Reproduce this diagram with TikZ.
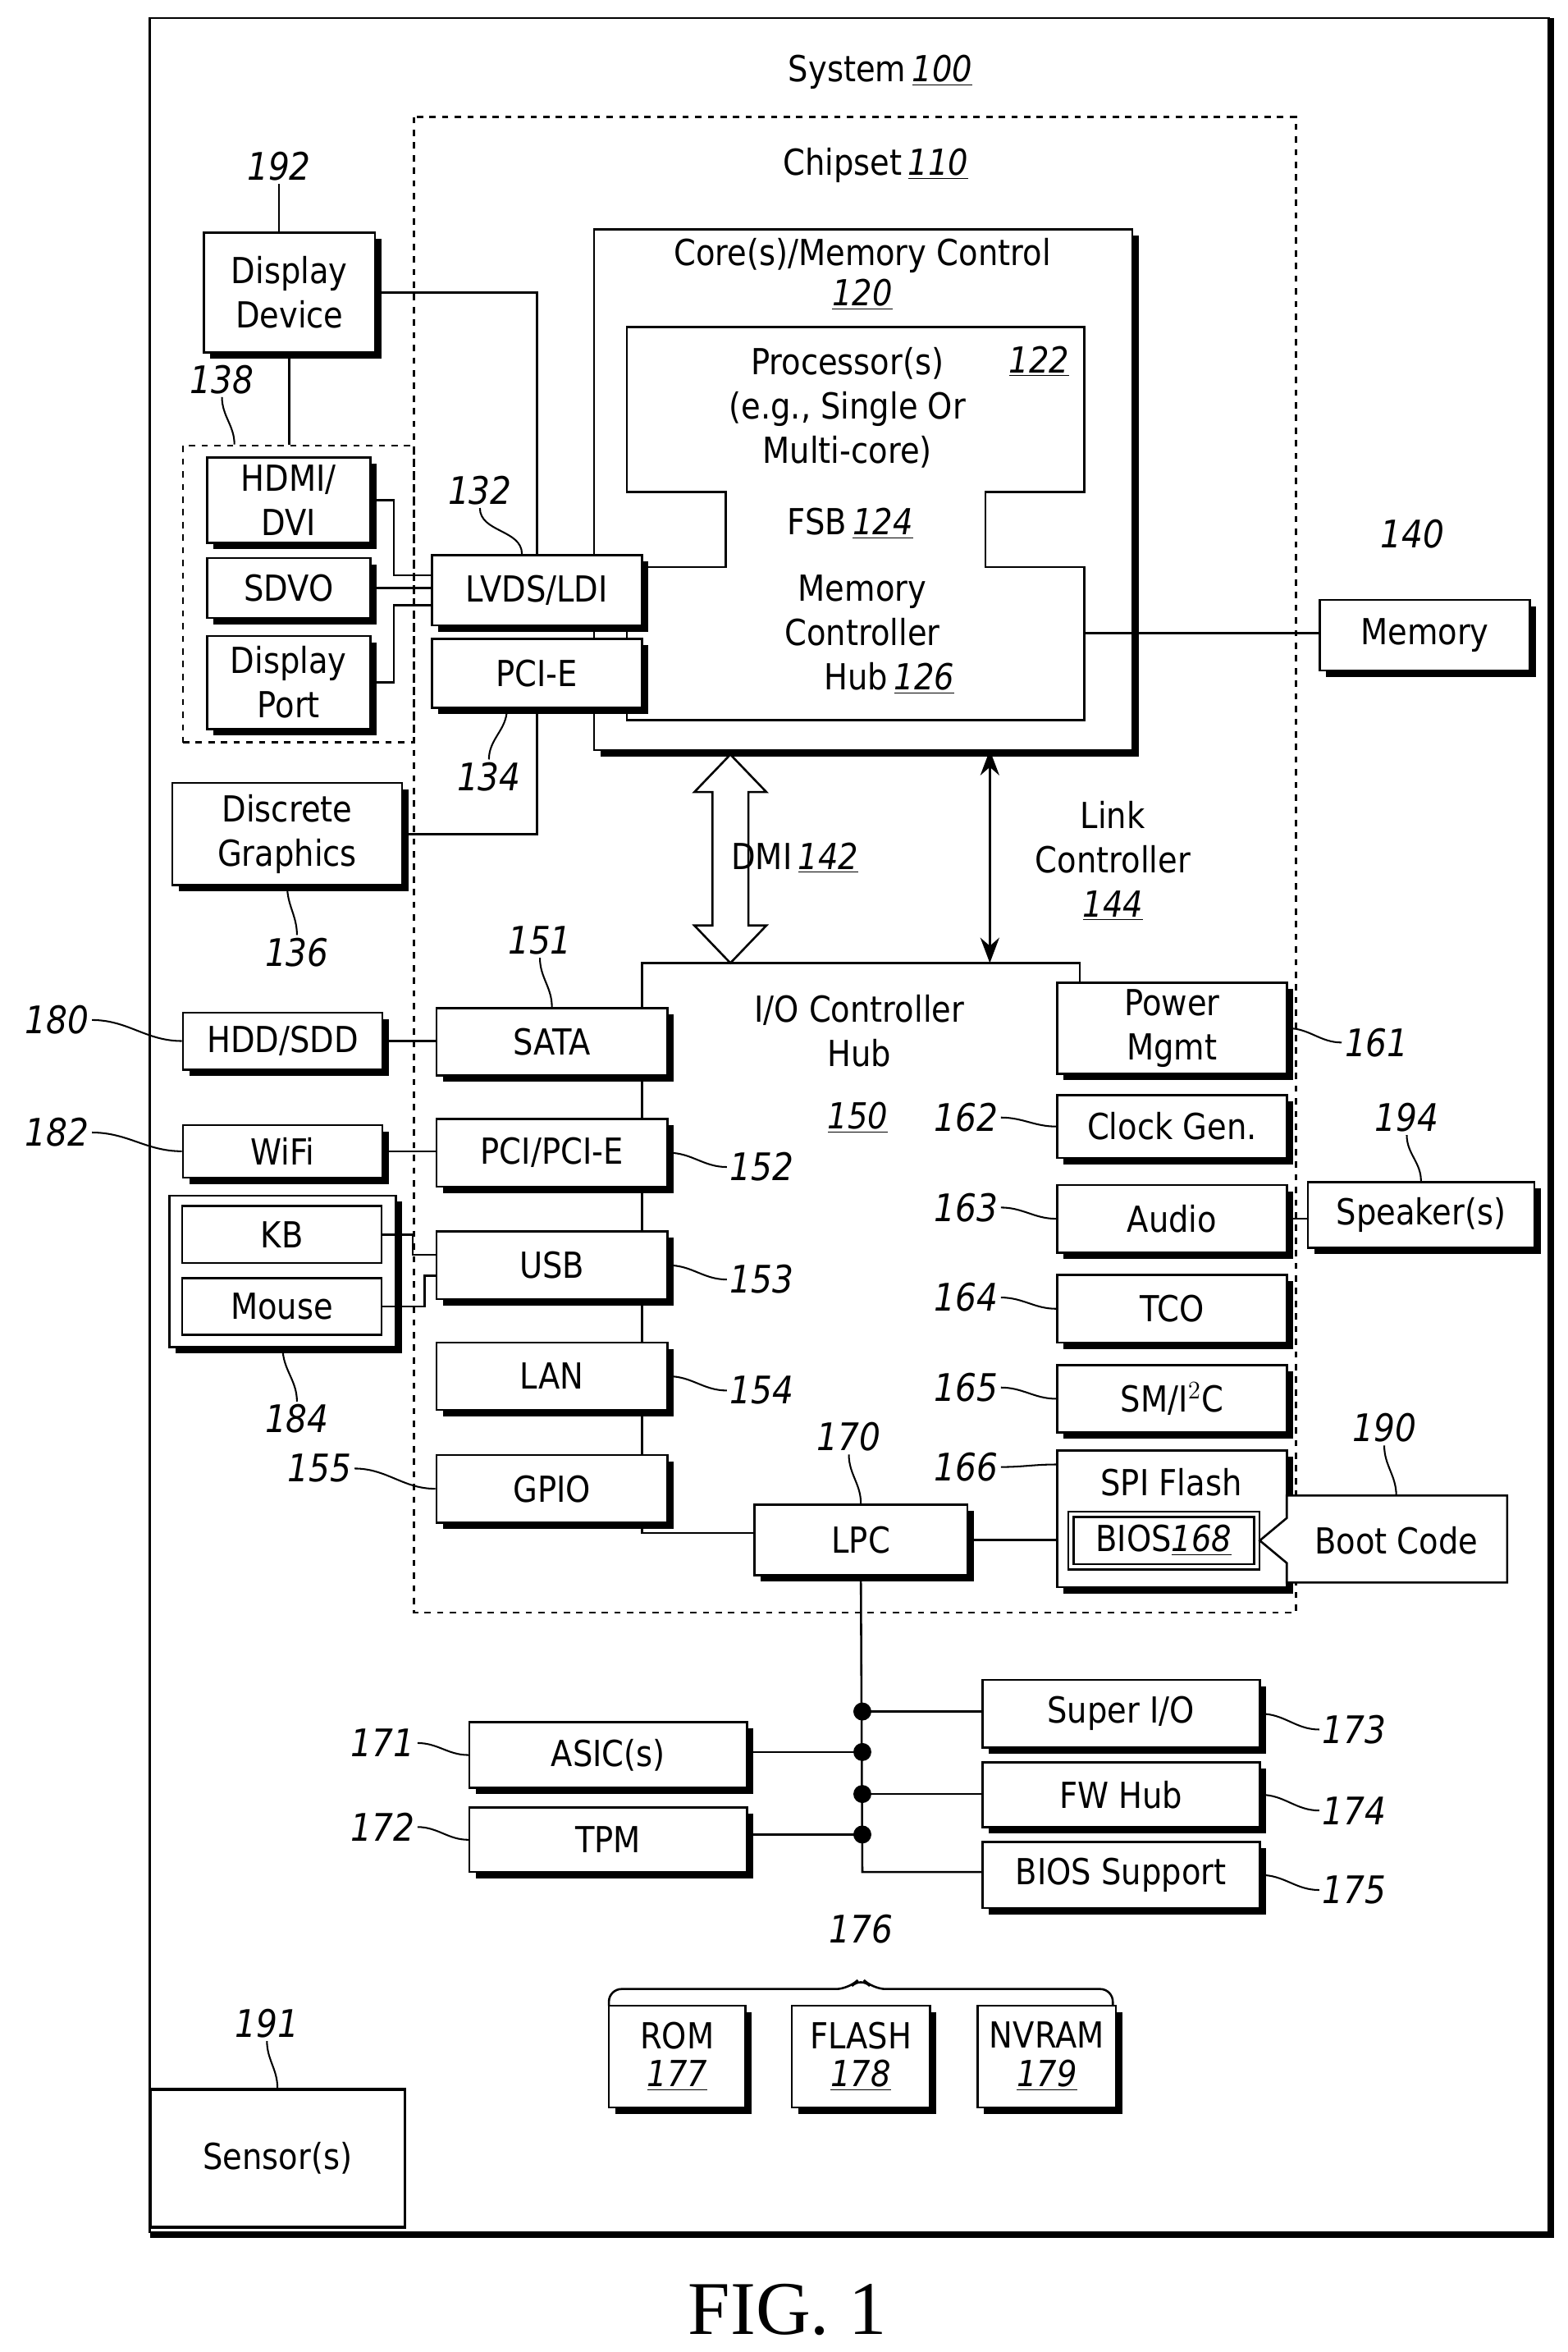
\documentclass[tikz,border=0pt]{standalone}
\usepackage{fontspec}
\setmainfont{DejaVu Sans}[FakeStretch=0.88]
\newfontfamily\figfont{Liberation Serif}
\usetikzlibrary{shadows,calc,arrows.meta}
\newcommand\num[1]{\underline{\textit{#1}}}
\newcommand\bx[7][]{\node[box,#1,minimum width={(#5-#3)*0.025cm},minimum height={(#6-#4)*0.025cm}] (#2) at ({(#3+#5)/2},{(#4+#6)/2}) {#7};}
\begin{document}
\begin{tikzpicture}[x=0.025cm,y=-0.025cm,line width=1pt,
  every node/.style={font=\fontsize{17}{21}\selectfont},
  box/.style={draw,fill=white,inner sep=0pt,align=center,general shadow={fill=black,shadow xshift=3pt,shadow yshift=-3pt}},
  pbox/.style={draw,fill=white,inner sep=0pt,align=center},
  lab/.style={font=\fontsize{18}{21}\selectfont\itshape,inner sep=1pt},
  lead/.style={line width=0.8pt}]
\useasboundingbox (0,0) rectangle (1045,1568);
% outer frame
\draw (100,12) rectangle (1033,1488);
\draw[line width=3pt] (1034,12) -- (1034,1490) -- (100,1490);
\node (sys) at (587,48) {System\,\num{100}};
% chipset
\draw[dashed] (276,78) rectangle (864,1075);
\node (chip) at (584,110) {Chipset\,\num{110}};
% core
\bx{core}{396}{153}{755}{500}{}
\node[align=center] (coret) at (575,183) {Core(s)/Memory Control\\[-2pt]\num{120}};
\draw (418,218) -- (723,218) -- (723,328) -- (657,328) -- (657,378) -- (723,378) -- (723,480) -- (418,480) -- (418,378) -- (484,378) -- (484,328) -- (418,328) -- cycle;
\node[align=center] (proc) at (565,272) {Processor(s)\\(e.g., Single Or\\Multi-core)};
\node (n122) at (693,241) {\num{122}};
\node (fsb) at (567,349) {FSB\,\num{124}};
\node[align=center] (mch) at (575,423) {Memory\\Controller\\\hspace*{1.5em}Hub\,\num{126}};
\coordinate (mchR) at (723,422);
% memory
\bx{mem}{880}{400}{1020}{447}{Memory}
\node[lab] (l140) at (942,356) {140};
\draw (mchR) -- (mchR -| mem.west);
% display
\bx{ddev}{136}{155}{250}{235}{Display\\Device}
\node[lab] (l192) at (186,111) {192};
\draw[lead] (l192.south) -- (ddev.north -| l192.south);
\node[draw,dashed,minimum width={154*0.025cm},minimum height={198*0.025cm},inner sep=0pt] (g138) at (199,396) {};
\node[lab] (l138) at (148,253) {138};
\draw[lead] (l138.south) to[out=-90,in=90] ($(g138.north west)+(35,0)$);
\draw (ddev.south) -- (ddev.south |- g138.north);
\bx{hdmi}{138}{305}{247}{362}{HDMI/\\DVI}
\bx{sdvo}{138}{372}{247}{412}{SDVO}
\bx{dp}{138}{424}{247}{486}{Display\\Port}
\bx{lvds}{288}{370}{428}{417}{LVDS/LDI}
\bx{pcie}{288}{426}{428}{472}{PCI-E}
\node[lab] (l132) at (320,327) {132};
\draw[lead] (l132.south) to[out=-90,in=90] ($(lvds.north)+(-10,0)$);
\node[lab] (l134) at (326,518) {134};
\draw[lead] (l134.north) to[out=90,in=-90] ($(pcie.south)+(-20,0)$);
\draw (ddev.east) -| (lvds.north);
\draw (hdmi.east) -- ++(15,0) |- ($(lvds.west)+(0,-10)$);
\draw (sdvo.east) -- (sdvo.east -| lvds.west);
\draw (dp.east) -- ++(15,0) |- ($(lvds.west)+(0,10)$);
\bx{dg}{115}{522}{268}{590}{Discrete\\Graphics}
\node[lab] (l136) at (198,635) {136};
\draw[lead] (l136.north) to[out=90,in=-90] (dg.south);
\draw (dg.east) -| (pcie.south);
% DMI
\draw[fill=white] (487,503) -- (511,528) -- (499,528) -- (499,617) -- (511,617) -- (487,642) -- (463,617) -- (475,617) -- (475,528) -- (463,528) -- cycle;
\node (dmi) at (530,572) {DMI\,\num{142}};
\coordinate (lkT) at (660,500);
\coordinate (lkB) at (660,642);
\draw[{Stealth[length=12pt,width=9pt]}-{Stealth[length=12pt,width=9pt]}] (lkT) -- (lkB);
\node[align=center] (link) at (742,574) {Link\\Controller\\\num{144}};
% ICH
\draw (503,1022) -- (428,1022) -- (428,642) -- (720,642) -- (720,655);
\node[align=center] (ich) at (573,687) {I/O Controller\\Hub};
\node (n150) at (572,745) {\num{150}};
\bx{sata}{291}{672}{445}{717}{SATA}
\bx{pci}{291}{746}{445}{791}{PCI/PCI-E}
\bx{usb}{291}{821}{445}{866}{USB}
\bx{lan}{291}{895}{445}{940}{LAN}
\bx{gpio}{291}{970}{445}{1015}{GPIO}
\node[lab] (l151) at (360,627) {151};
\draw[lead] (l151.south) to[out=-90,in=90] (sata.north);
\node[lab] (l152) at (508,778) {152};
\draw[lead] (pci.east) to[out=0,in=180] (l152.west);
\node[lab] (l153) at (508,853) {153};
\draw[lead] (usb.east) to[out=0,in=180] (l153.west);
\node[lab] (l154) at (508,927) {154};
\draw[lead] (lan.east) to[out=0,in=180] (l154.west);
\node[lab] (l155) at (213,979) {155};
\draw[lead] (l155.east) to[out=0,in=180] (gpio.west);
% right boxes
\bx{pm}{705}{655}{858}{716}{Power\\Mgmt}
\bx{clk}{705}{730}{858}{772}{Clock Gen.}
\bx{aud}{705}{790}{858}{835}{Audio}
\bx{tco}{705}{850}{858}{895}{TCO}
\bx{smb}{705}{910}{858}{955}{SM/I$^2$C}
\bx{spi}{705}{967}{858}{1058}{}
\node (spit) at (781,988) {SPI Flash};
\node[draw,double,double distance=1.5pt,minimum width={124*0.025cm},minimum height={35*0.025cm},inner sep=0pt] (bios) at (776,1027) {BIOS\num{168}};
\node[lab] (l161) at (918,695) {161};
\draw[lead] (pm.east) to[out=0,in=180] (l161.west);
\node[lab] (l162) at (644,745) {162};
\draw[lead] (l162.east) to[out=0,in=180] (clk.west);
\node[lab] (l163) at (644,805) {163};
\draw[lead] (l163.east) to[out=0,in=180] (aud.west);
\node[lab] (l164) at (644,865) {164};
\draw[lead] (l164.east) to[out=0,in=180] (tco.west);
\node[lab] (l165) at (644,925) {165};
\draw[lead] (l165.east) to[out=0,in=180] (smb.west);
\node[lab] (l166) at (644,978) {166};
\draw[lead] (l166.east) to[out=0,in=180] ($(spi.north west)+(0,10)$);
% boot code
\draw[fill=white] (858,997) -- (1005,997) -- (1005,1055) -- (858,1055) -- (858,1042) -- (840,1027) -- (858,1012) -- cycle;
\node (boot) at (931,1027) {Boot Code};
\node[lab] (l190) at (923,952) {190};
\draw[lead] (l190.south) to[out=-90,in=90] (931,997);
% speaker
\bx{spk}{872}{788}{1023}{832}{Speaker(s)}
\node[lab] (l194) at (938,745) {194};
\draw[lead] (l194.south) to[out=-90,in=90] (spk.north);
\draw (aud.east) -- (aud.east -| spk.west);
% external left
\bx{hdd}{122}{675}{255}{713}{HDD/SDD}
\node[lab] (l180) at (38,680) {180};
\draw[lead] (l180.east) to[out=0,in=180] (hdd.west);
\draw (hdd.east) -- (hdd.east -| sata.west);
\bx{wifi}{122}{750}{255}{785}{WiFi}
\node[lab] (l182) at (38,755) {182};
\draw[lead] (l182.east) to[out=0,in=180] (wifi.west);
\draw (wifi.east) -- (wifi.east -| pci.west);
\bx{kbm}{113}{797}{264}{898}{}
\node[pbox,minimum width={133*0.025cm},minimum height={38*0.025cm}] (kb) at (188,823) {KB};
\node[pbox,minimum width={133*0.025cm},minimum height={38*0.025cm}] (mouse) at (188,871) {Mouse};
\node[lab] (l184) at (198,946) {184};
\draw[lead] (l184.north) to[out=90,in=-90] (kbm.south);
\draw (kb.east) -- ++(20,0) |- ($(usb.west)+(0,-7)$);
\draw (mouse.east) -- ++(28,0) |- ($(usb.west)+(0,7)$);
% LPC
\bx{lpc}{503}{1003}{645}{1050}{LPC}
\node[lab] (l170) at (566,958) {170};
\draw[lead] (l170.south) to[out=-90,in=90] (lpc.north);
\draw (lpc.east) -- (lpc.east -| spi.west);
% bus
\bx{sio}{655}{1120}{840}{1165}{Super I/O}
\bx{fwh}{655}{1175}{840}{1218}{FW Hub}
\bx{bsup}{655}{1228}{840}{1272}{BIOS Support}
\bx{asic}{313}{1148}{498}{1192}{ASIC(s)}
\bx{tpm}{313}{1205}{498}{1248}{TPM}
\coordinate (d1) at (575,1141);
\coordinate (d2) at (575,1168);
\coordinate (d3) at (575,1196);
\coordinate (d4) at (575,1223);
\coordinate (bend) at (575,1248);
\draw (lpc.south) -- (bend) -- (bend -| bsup.west);
\draw (d1) -- (d1 -| sio.west);
\draw (d2) -- (d2 -| asic.east);
\draw (d3) -- (d3 -| fwh.west);
\draw (d4) -- (d4 -| tpm.east);
\foreach \d in {d1,d2,d3,d4} \fill (\d) circle (6);
\node[lab] (l171) at (255,1162) {171};
\draw[lead] (l171.east) to[out=0,in=180] (asic.west);
\node[lab] (l172) at (255,1218) {172};
\draw[lead] (l172.east) to[out=0,in=180] (tpm.west);
\node[lab] (l173) at (903,1153) {173};
\draw[lead] (sio.east) to[out=0,in=180] (l173.west);
\node[lab] (l174) at (903,1207) {174};
\draw[lead] (fwh.east) to[out=0,in=180] (l174.west);
\node[lab] (l175) at (903,1260) {175};
\draw[lead] (bsup.east) to[out=0,in=180] (l175.west);
% memories
\node[lab] (l176) at (574,1286) {176};
\draw[rounded corners=6pt] (406,1337) -- (406,1326) -- (566,1326) -- (574,1318) -- (582,1326) -- (742,1326) -- (742,1337);
\bx{rom}{406}{1337}{497}{1405}{ROM\\[-3pt]\num{177}}
\bx{fls}{528}{1337}{620}{1405}{FLASH\\[-3pt]\num{178}}
\bx{nvr}{652}{1337}{744}{1405}{NVRAM\\[-3pt]\num{179}}
% sensor
\node[draw,line width=1.5pt,minimum width={170*0.025cm},minimum height={92*0.025cm},inner sep=0pt] (sens) at (185,1439) {Sensor(s)};
\node[lab] (l191) at (178,1349) {191};
\draw[lead] (l191.south) to[out=-90,in=90] (sens.north);
\node[font=\figfont\fontsize{36}{40}\selectfont] (fig) at (525,1540) {FIG. 1};
\end{tikzpicture}
\end{document}
